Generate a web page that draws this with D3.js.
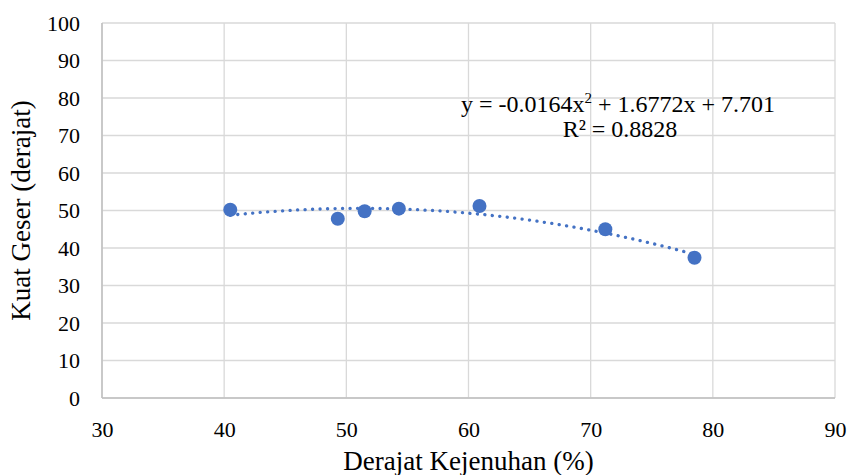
<!DOCTYPE html>
<html>
<head>
<meta charset="utf-8">
<script src="https://cdn.jsdelivr.net/npm/d3@7"></script>
<style>
  body { margin: 0; background: #fff; }
</style>
</head>
<body>
<div id="chart"></div>
<script>
// data
var derajatKejenuhan = [40.5, 49.3, 51.5, 54.3, 60.9, 71.2, 78.5];
var kuatGeser = [50.2, 47.8, 49.8, 50.5, 51.2, 45.0, 37.4];
var xTicks = [30, 40, 50, 60, 70, 80, 90];
var yTicks = [0, 10, 20, 30, 40, 50, 60, 70, 80, 90, 100];
// trendline coefficients as printed on the chart (a x^2 + b x + c)
var trendCoef = [-0.0164, 1.6772, 7.701];
var r2Label = "0.8828";

var FONT = "'Liberation Serif', 'Times New Roman', serif";
var W = 850, H = 475;
var margin = {top: 23, right: 15, bottom: 77, left: 102};
var width = W - margin.left - margin.right;
var height = H - margin.top - margin.bottom;

var svg = d3.select("#chart").append("svg")
    .attr("width", W)
    .attr("height", H)
    .style("font-family", FONT);

var g = svg.append("g")
    .attr("transform", "translate(" + margin.left + "," + margin.top + ")");

var x = d3.scaleLinear().domain([30, 90]).range([0, width]);
var y = d3.scaleLinear().domain([0, 100]).range([height, 0]);

// grid
g.append("g").selectAll("line")
    .data(yTicks)
    .enter().append("line")
    .attr("x1", 0).attr("x2", width)
    .attr("y1", function (d) { return y(d); })
    .attr("y2", function (d) { return y(d); })
    .attr("stroke", "#d9d9d9")
    .attr("stroke-width", 1.3);

g.append("g").selectAll("line")
    .data(xTicks)
    .enter().append("line")
    .attr("y1", 0).attr("y2", height)
    .attr("x1", function (d) { return x(d); })
    .attr("x2", function (d) { return x(d); })
    .attr("stroke", "#d9d9d9")
    .attr("stroke-width", 1.3);

// axis lines
g.append("line").attr("x1", 0).attr("x2", 0).attr("y1", 0).attr("y2", height)
    .attr("stroke", "#bfbfbf").attr("stroke-width", 1.5);
g.append("line").attr("x1", 0).attr("x2", width).attr("y1", height).attr("y2", height)
    .attr("stroke", "#bfbfbf").attr("stroke-width", 1.5);

// axes (labels only)
var xAxis = g.append("g")
    .attr("transform", "translate(0," + height + ")")
    .call(d3.axisBottom(x).tickValues(xTicks).tickSize(0).tickPadding(23));
xAxis.select(".domain").remove();
xAxis.attr("font-family", null).attr("font-size", null);
xAxis.selectAll("text").style("font-size", "22px").style("font-family", FONT).attr("fill", "#000");

var yAxis = g.append("g")
    .call(d3.axisLeft(y).tickValues(yTicks).tickSize(0).tickPadding(22));
yAxis.select(".domain").remove();
yAxis.attr("font-family", null).attr("font-size", null);
yAxis.selectAll("text").style("font-size", "22px").style("font-family", FONT).attr("fill", "#000");

// trendline, drawn over the range of the data
var xmin = d3.min(derajatKejenuhan), xmax = d3.max(derajatKejenuhan);
var trendPts = d3.range(0, 61).map(function (i) {
    var xv = xmin + (xmax - xmin) * i / 60;
    return [xv, trendCoef[0] * xv * xv + trendCoef[1] * xv + trendCoef[2]];
});
g.append("path")
    .datum(trendPts)
    .attr("fill", "none")
    .attr("stroke", "#4472c4")
    .attr("stroke-width", 3.3)
    .attr("stroke-linecap", "round")
    .attr("stroke-dasharray", "0.1 7.4")
    .attr("d", d3.line()
        .x(function (d) { return x(d[0]); })
        .y(function (d) { return y(d[1]); }));

// points
g.selectAll("circle")
    .data(derajatKejenuhan)
    .enter().append("circle")
    .attr("cx", function (d) { return x(d); })
    .attr("cy", function (d, i) { return y(kuatGeser[i]); })
    .attr("r", 7)
    .attr("fill", "#4472c4");

// equation
var eq = svg.append("text")
    .attr("x", 618).attr("y", 112)
    .attr("text-anchor", "middle")
    .style("font-size", "24px");
eq.append("tspan").text("y = " + trendCoef[0] + "x");
eq.append("tspan").attr("dy", -9).style("font-size", "15px").text("2");
eq.append("tspan").attr("dy", 9).text(" + " + trendCoef[1] + "x + " + trendCoef[2]);

svg.append("text")
    .attr("x", 620).attr("y", 137)
    .attr("text-anchor", "middle")
    .style("font-size", "24px")
    .text("R\u00b2 = " + r2Label);

// axis titles
svg.append("text")
    .attr("x", margin.left + width / 2).attr("y", 470)
    .attr("text-anchor", "middle")
    .style("font-size", "27px")
    .text("Derajat Kejenuhan (%)");

svg.append("text")
    .attr("transform", "translate(30," + (margin.top + height / 2) + ") rotate(-90)")
    .attr("text-anchor", "middle")
    .style("font-size", "27px")
    .text("Kuat Geser (derajat)");
</script>
</body>
</html>
